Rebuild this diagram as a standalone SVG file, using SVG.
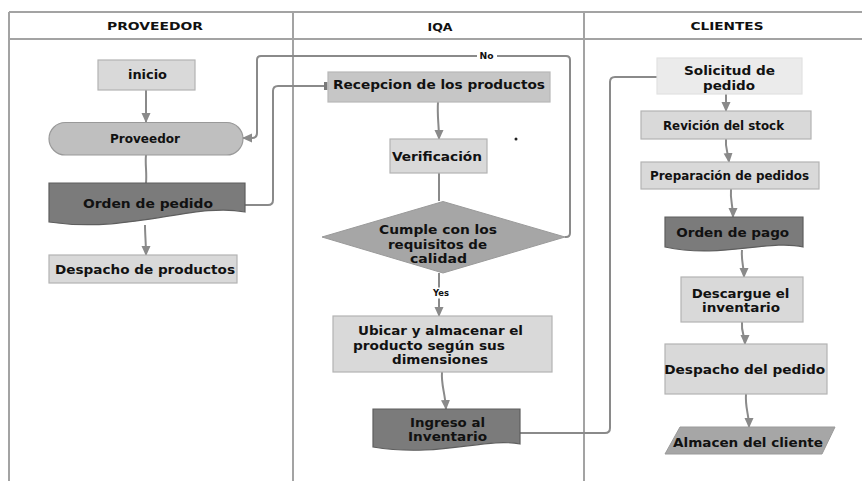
<svg xmlns="http://www.w3.org/2000/svg" width="862" height="481" viewBox="0 0 862 481">
  <defs>
    <marker id="arrow" markerUnits="userSpaceOnUse" markerWidth="10" markerHeight="10" viewBox="0 0 10 10" refX="9" refY="5" orient="auto">
      <path d="M0,0.5 L10,5 L0,9.5 Z" fill="#8a8a8a"/>
    </marker>
    <marker id="bar" markerUnits="userSpaceOnUse" markerWidth="4" markerHeight="8" viewBox="0 0 4 8" refX="3.5" refY="4" orient="auto">
      <rect x="0" y="0" width="4" height="8" fill="#7a7a7a"/>
    </marker>
    <style>
      .lane { stroke: #a3a3a3; stroke-width: 2; fill: none; }
      .hdr { font-family: "DejaVu Sans", "Liberation Sans", sans-serif; font-weight: 700; font-size: 11px; fill: #111; text-anchor: middle; }
      .lbl { font-family: "DejaVu Sans", "Liberation Sans", sans-serif; font-weight: 700; font-size: 12px; fill: #111; text-anchor: middle; }
      .light { fill: #d9d9d9; stroke: #b3b3b3; stroke-width: 1.2; }
      .mid { fill: #c6c6c6; stroke: #b8b8b8; stroke-width: 1.2; }
      .pale { fill: #ebebeb; stroke: #e2e2e2; stroke-width: 1.2; }
      .term { fill: #bfbfbf; stroke: #999; stroke-width: 1.2; }
      .dark { fill: #7b7b7b; stroke: #5e5e5e; stroke-width: 1.2; }
      .dec { fill: #a6a6a6; stroke: #9a9a9a; stroke-width: 1; }
      .conn { stroke: #8a8a8a; stroke-width: 2; fill: none; }
      .tag { font-family: "DejaVu Sans", "Liberation Sans", sans-serif; font-weight: 700; font-size: 8px; fill: #111; text-anchor: middle; }
    </style>
  </defs>

  <rect x="0" y="0" width="862" height="481" fill="#ffffff"/>

  <!-- swimlane frame -->
  <g id="lanes">
    <path class="lane" d="M9,12 H862 M9,39 H862 M9,12 V481 M293,12 V481 M584,12 V481"/>
    <text class="hdr" x="155" y="30" textLength="96" lengthAdjust="spacingAndGlyphs">PROVEEDOR</text>
    <text class="hdr" x="440" y="30.5" textLength="25" lengthAdjust="spacingAndGlyphs">IQA</text>
    <text class="hdr" x="727" y="30" textLength="73" lengthAdjust="spacingAndGlyphs">CLIENTES</text>
  </g>

  <!-- connectors -->
  <g id="connectors">
    <path class="conn" d="M146,90 V122" marker-end="url(#arrow)"/>
    <path class="conn" d="M146,155 C145,165 147,172 146,183"/>
    <path class="conn" d="M145,225 C145,235 146,242 146,255" marker-end="url(#arrow)"/>
    <path class="conn" d="M245,205 H268 Q273,205 273,200 V91 Q273,86 278,86 H327" marker-end="url(#bar)"/>
    <path class="conn" d="M565,237 H566 Q570,237 570,233 V60 Q570,56 566,56 H261 Q257,56 257,60 V133 Q257,138 252,138 H243" marker-end="url(#arrow)"/>
    <rect x="477" y="50.5" width="20" height="11" fill="#ffffff"/>
    <text class="tag" x="486.5" y="59" textLength="14" lengthAdjust="spacingAndGlyphs">No</text>
    <path class="conn" d="M438,102 C437,115 439,125 439,139" marker-end="url(#arrow)"/>
    <path class="conn" d="M439,173 V201"/>
    <path class="conn" d="M439,273 V316" marker-end="url(#arrow)"/>
    <rect x="430" y="287.5" width="20" height="11" fill="#ffffff"/>
    <text class="tag" x="441" y="296" textLength="16" lengthAdjust="spacingAndGlyphs">Yes</text>
    <path class="conn" d="M442,372 C441,385 445,392 446,409" marker-end="url(#arrow)"/>
    <path class="conn" d="M520,433 H605 Q610,433 610,428 V82 Q610,77 615,77 H657"/>
    <path class="conn" d="M726,94 V111" marker-end="url(#arrow)"/>
    <path class="conn" d="M726,139 C725,148 728,152 729,162" marker-end="url(#arrow)"/>
    <path class="conn" d="M731,189 C730,200 733,205 733,217" marker-end="url(#arrow)"/>
    <path class="conn" d="M742,250 C741,262 744,266 744,277" marker-end="url(#arrow)"/>
    <path class="conn" d="M742,322 C741,333 745,336 745,344" marker-end="url(#arrow)"/>
    <path class="conn" d="M746,394 C745,408 749,414 749,427" marker-end="url(#arrow)"/>
  </g>

  <!-- PROVEEDOR lane -->
  <g id="n-inicio">
    <rect class="light" x="98" y="60" width="97" height="30"/>
    <text class="lbl" x="147.5" y="79" font-size="11" textLength="39" lengthAdjust="spacingAndGlyphs">inicio</text>
  </g>
  <g id="n-proveedor">
    <rect class="term" x="49" y="122.5" width="194" height="32.5" rx="16.25"/>
    <text class="lbl" x="145" y="142.7" font-size="11" textLength="70" lengthAdjust="spacingAndGlyphs">Proveedor</text>
  </g>
  <g id="n-orden-pedido">
    <path class="dark" d="M49,183 H245 V212 C195,202 130,234 49,222 Z"/>
    <text class="lbl" x="148" y="207.5" font-size="12.5" textLength="130" lengthAdjust="spacingAndGlyphs">Orden de pedido</text>
  </g>
  <g id="n-despacho-productos">
    <rect class="light" x="49" y="255" width="188" height="28"/>
    <text class="lbl" x="145" y="273.5" font-size="12.5" textLength="180" lengthAdjust="spacingAndGlyphs">Despacho de productos</text>
  </g>

  <!-- IQA lane -->
  <g id="n-recepcion">
    <rect class="mid" x="328" y="72" width="222" height="30"/>
    <text class="lbl" x="439" y="88.7" textLength="212" lengthAdjust="spacingAndGlyphs">Recepcion de los productos</text>
  </g>
  <g id="n-verificacion">
    <rect class="light" x="390" y="139" width="97" height="34"/>
    <text class="lbl" x="437" y="161" textLength="90" lengthAdjust="spacingAndGlyphs">Verificación</text>
  </g>
  <g id="n-cumple">
    <polygon class="dec" points="322,237 443,201.5 565,237 443,273"/>
    <text class="lbl" x="438" y="234.3" textLength="118" lengthAdjust="spacingAndGlyphs">Cumple con los</text>
    <text class="lbl" x="437.5" y="248.6" textLength="99" lengthAdjust="spacingAndGlyphs">requisitos de</text>
    <text class="lbl" x="438.5" y="262.9" textLength="57" lengthAdjust="spacingAndGlyphs">calidad</text>
  </g>
  <g id="n-ubicar">
    <rect class="light" x="333" y="316" width="219" height="56"/>
    <text class="lbl" x="440.5" y="335.4" textLength="165" lengthAdjust="spacingAndGlyphs">Ubicar y almacenar el</text>
    <text class="lbl" x="429" y="349.7" textLength="152" lengthAdjust="spacingAndGlyphs">producto según sus</text>
    <text class="lbl" x="440" y="364" textLength="96" lengthAdjust="spacingAndGlyphs">dimensiones</text>
  </g>
  <g id="n-ingreso">
    <path class="dark" d="M373,409 H520 V444 C485,437 440,458 373,447 Z"/>
    <text class="lbl" x="447.5" y="427" textLength="75" lengthAdjust="spacingAndGlyphs">Ingreso al</text>
    <text class="lbl" x="447.5" y="441.3" textLength="79" lengthAdjust="spacingAndGlyphs">Inventario</text>
  </g>
  <circle cx="516" cy="139" r="1.5" fill="#222"/>

  <!-- CLIENTES lane -->
  <g id="n-solicitud">
    <rect class="pale" x="657" y="58" width="145" height="36"/>
    <text class="lbl" x="729.5" y="74.5" textLength="91" lengthAdjust="spacingAndGlyphs">Solicitud de</text>
    <text class="lbl" x="729" y="90" textLength="52" lengthAdjust="spacingAndGlyphs">pedido</text>
  </g>
  <g id="n-revicion">
    <rect class="light" x="641" y="111" width="170" height="28"/>
    <text class="lbl" x="723.5" y="130" font-size="11" textLength="121" lengthAdjust="spacingAndGlyphs">Revición del stock</text>
  </g>
  <g id="n-preparacion">
    <rect class="light" x="641" y="162" width="178" height="27"/>
    <text class="lbl" x="729.5" y="180" font-size="11" textLength="159" lengthAdjust="spacingAndGlyphs">Preparación de pedidos</text>
  </g>
  <g id="n-orden-pago">
    <path class="dark" d="M665,217 H803 V247 C770,239 720,259 665,247 Z"/>
    <text class="lbl" x="732.7" y="237" font-size="12.5" textLength="113" lengthAdjust="spacingAndGlyphs">Orden de pago</text>
  </g>
  <g id="n-descargue">
    <rect class="light" x="681" y="277" width="122" height="45"/>
    <text class="lbl" x="740.5" y="297.6" textLength="97.6" lengthAdjust="spacingAndGlyphs">Descargue el</text>
    <text class="lbl" x="741" y="311.9" textLength="78" lengthAdjust="spacingAndGlyphs">inventario</text>
  </g>
  <g id="n-despacho-pedido">
    <rect class="light" x="665" y="344" width="162" height="50"/>
    <text class="lbl" x="744.7" y="373.8" font-size="12.5" textLength="161" lengthAdjust="spacingAndGlyphs">Despacho del pedido</text>
  </g>
  <g id="n-almacen">
    <polygon class="dec" points="680,427 835,427 822,454 665,454"/>
    <text class="lbl" x="748" y="447" textLength="150" lengthAdjust="spacingAndGlyphs">Almacen del cliente</text>
  </g>
</svg>
